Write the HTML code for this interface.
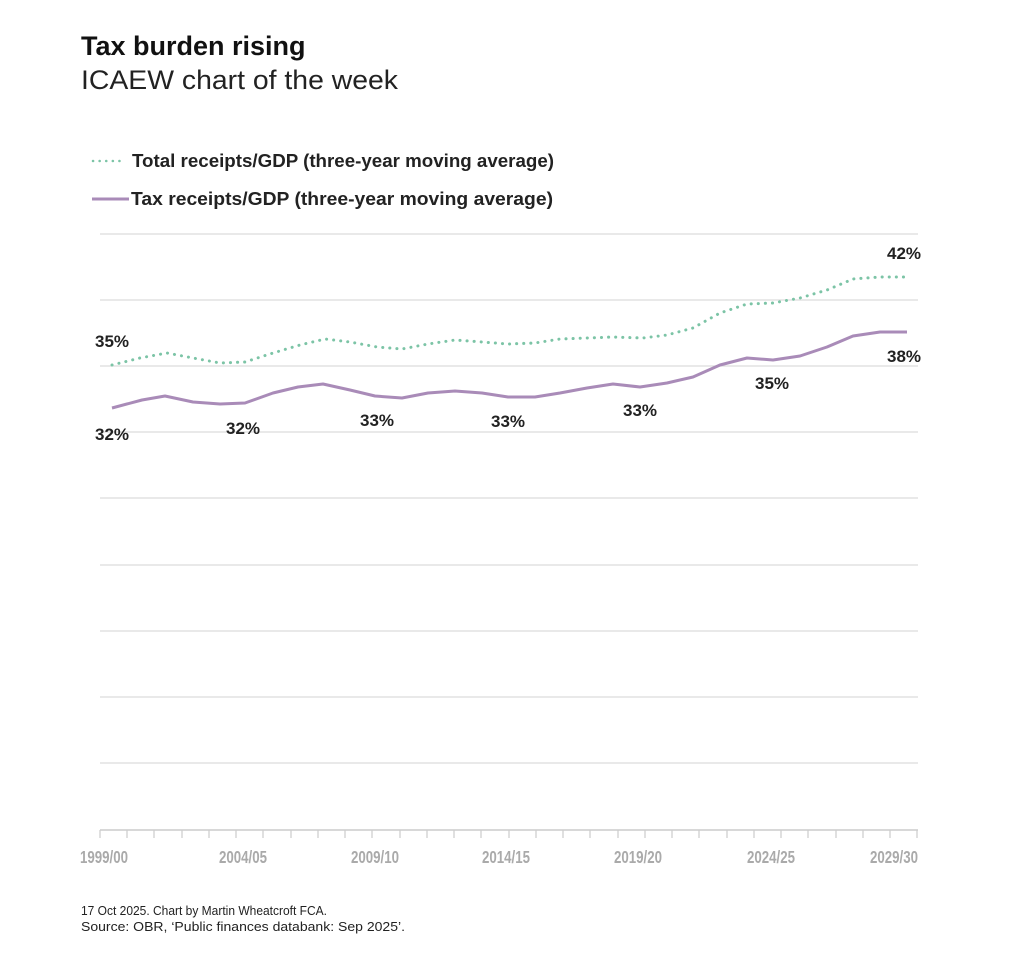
<!DOCTYPE html>
<html><head><meta charset="utf-8"><style>
body{margin:0;background:#fff;}
svg{display:block;font-family:"Liberation Sans",sans-serif;}
</style></head><body>
<svg width="1024" height="960" viewBox="0 0 1024 960">
<text x="81" y="55" font-size="27" font-weight="bold" fill="#111">Tax burden rising</text>
<text x="81" y="89" font-size="27" fill="#222" textLength="317" lengthAdjust="spacingAndGlyphs">ICAEW chart of the week</text>
<line x1="93" y1="161" x2="124" y2="161" stroke="#7cc4a6" stroke-width="2.5" stroke-dasharray="0.1,6.5" stroke-linecap="round"/>
<text x="132" y="167" font-size="18" font-weight="bold" fill="#222" textLength="422" lengthAdjust="spacingAndGlyphs">Total receipts/GDP (three-year moving average)</text>
<line x1="92" y1="199" x2="129" y2="199" stroke="#a98bb8" stroke-width="3"/>
<text x="131" y="205" font-size="18" font-weight="bold" fill="#222" textLength="422" lengthAdjust="spacingAndGlyphs">Tax receipts/GDP (three-year moving average)</text>
<g stroke="#dcdcdc" stroke-width="1.2">
<line x1="100" y1="234" x2="918" y2="234"/><line x1="100" y1="300" x2="918" y2="300"/>
<line x1="100" y1="366" x2="918" y2="366"/><line x1="100" y1="432" x2="918" y2="432"/>
<line x1="100" y1="498" x2="918" y2="498"/><line x1="100" y1="565" x2="918" y2="565"/>
<line x1="100" y1="631" x2="918" y2="631"/><line x1="100" y1="697" x2="918" y2="697"/>
<line x1="100" y1="763" x2="918" y2="763"/>
</g>
<line x1="100" y1="830" x2="918" y2="830" stroke="#ccc" stroke-width="1.5"/>
<g stroke="#ccc" stroke-width="1.2">
<path d="M100 830v8M127 830v8M154 830v8M182 830v8M209 830v8M236 830v8M263 830v8M291 830v8M318 830v8M345 830v8M372 830v8M400 830v8M427 830v8M454 830v8M481 830v8M509 830v8M536 830v8M563 830v8M590 830v8M618 830v8M645 830v8M672 830v8M699 830v8M727 830v8M754 830v8M781 830v8M808 830v8M836 830v8M863 830v8M890 830v8M917 830v8"/>
</g>
<g font-size="17.5" font-weight="bold" fill="#aaa" text-anchor="middle">
<text x="104" y="863" textLength="48" lengthAdjust="spacingAndGlyphs">1999/00</text><text x="243" y="863" textLength="48" lengthAdjust="spacingAndGlyphs">2004/05</text><text x="375" y="863" textLength="48" lengthAdjust="spacingAndGlyphs">2009/10</text>
<text x="506" y="863" textLength="48" lengthAdjust="spacingAndGlyphs">2014/15</text><text x="638" y="863" textLength="48" lengthAdjust="spacingAndGlyphs">2019/20</text><text x="771" y="863" textLength="48" lengthAdjust="spacingAndGlyphs">2024/25</text><text x="894" y="863" textLength="48" lengthAdjust="spacingAndGlyphs">2029/30</text>
</g>
<polyline fill="none" stroke="#7cc4a6" stroke-width="3" stroke-dasharray="0.1,7" stroke-linecap="round" points="112,365 140,358 167,353 193,358 220,363 245,362 273,353 300,345 325,339 350,342 377,347 402,349 428,344 455,340 482,342 508,344 535,343 560,339 587,338 613,337 643,338 667,335 693,328 720,313 747,304 773,303 800,298 827,290 853,279 880,277 904,277"/>
<polyline fill="none" stroke="#a98bb8" stroke-width="3" stroke-linejoin="round" points="112,408 142,400 165,396 193,402 220,404 245,403 273,393 298,387 323,384 350,390 375,396 402,398 428,393 455,391 482,393 508,397 535,397 560,393 587,388 613,384 640,387 667,383 693,377 720,365 747,358 773,360 800,356 827,347 853,336 880,332 907,332"/>
<g font-size="17" font-weight="bold" fill="#222" text-anchor="middle">
<text x="112" y="347">35%</text><text x="112" y="440">32%</text><text x="243" y="434">32%</text>
<text x="377" y="426">33%</text><text x="508" y="427">33%</text><text x="640" y="416">33%</text>
<text x="772" y="389">35%</text><text x="904" y="259">42%</text><text x="904" y="362">38%</text>
</g>
<text x="81" y="915" font-size="13" fill="#222" textLength="246" lengthAdjust="spacingAndGlyphs">17 Oct 2025.   Chart by Martin Wheatcroft FCA.</text>
<text x="81" y="931" font-size="13" fill="#222" textLength="324" lengthAdjust="spacingAndGlyphs">Source: OBR, ‘Public finances databank: Sep 2025’.</text>
</svg>
</body></html>
